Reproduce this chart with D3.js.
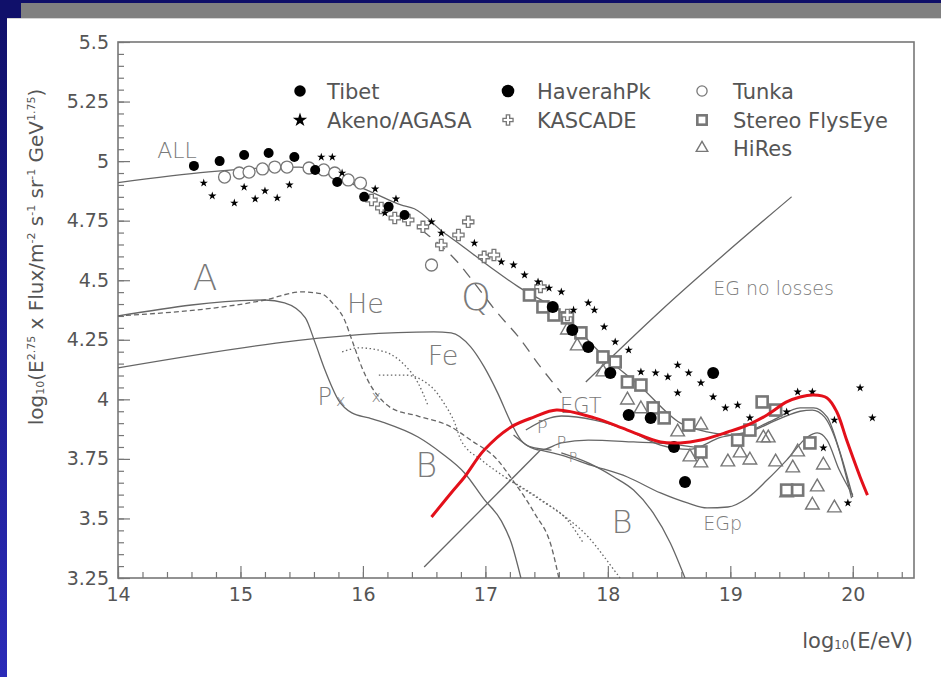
<!DOCTYPE html>
<html>
<head>
<meta charset="utf-8">
<script src="https://cdn.jsdelivr.net/npm/d3@7"></script>
<style>
  html, body { margin: 0; padding: 0; background: #fff; }
  svg { display: block; }
</style>
</head>
<body>
<div id="chart"></div>
<script>
// x = log10(E/eV), y = log10(E^2.75 x Flux)

// model curves
const allCurve = [[14.00,4.91],[15.48,4.975],[15.61,4.963],[15.77,4.934],[16.07,4.87],[16.31,4.816],[16.42,4.80],[16.66,4.70],[16.80,4.648],[17.05,4.551],[17.27,4.472],[17.62,4.362],[17.94,4.195],[18.27,4.052],[18.59,3.901],[18.81,3.863],[19.02,3.85],[19.35,3.913],[19.57,3.964],[19.68,3.964],[19.79,3.926],[19.89,3.787],[20.00,3.59]];
const protonA = [[14.00,4.35],[15.20,4.417],[15.36,4.405],[15.53,4.342],[15.61,4.237],[15.69,4.123],[15.80,3.997],[15.91,3.943],[16.05,3.922],[16.18,3.901],[16.45,3.842],[16.64,3.775],[16.83,3.691],[16.99,3.58],[17.13,3.49],[17.21,3.40],[17.29,3.25]];
const heliumA = [[14.00,4.35],[15.20,4.417],[15.50,4.451],[15.66,4.443],[15.75,4.405],[15.85,4.333],[15.91,4.249],[15.99,4.136],[16.07,4.052],[16.13,4.010],[16.23,3.964],[16.45,3.930],[16.72,3.884],[16.88,3.829],[17.10,3.745],[17.21,3.670],[17.40,3.523],[17.54,3.380],[17.60,3.25]];
const ironA = [[14.00,4.132],[16.58,4.283],[16.72,4.279],[16.88,4.220],[16.99,4.136],[17.10,4.027],[17.21,3.901],[17.29,3.829],[17.37,3.800],[17.54,3.787]];
const egTotal = [[17.33,3.871],[17.53,3.922],[17.62,3.93],[17.89,3.913],[18.16,3.871],[18.43,3.808],[18.67,3.79],[18.92,3.84],[19.16,3.865],[19.41,3.92],[19.57,3.95],[19.67,3.955],[19.77,3.925],[19.88,3.80],[19.99,3.585]];
const egProtonMid = [[17.23,3.85],[17.45,3.787],[17.62,3.817],[17.84,3.829],[18.21,3.821],[18.49,3.813],[18.76,3.796]];
const egProton = [[17.45,3.787],[17.62,3.766],[17.86,3.724],[18.16,3.674],[18.43,3.607],[18.65,3.565],[18.81,3.544],[18.98,3.548],[19.14,3.586],[19.30,3.661],[19.46,3.745],[19.63,3.842],[19.71,3.859],[19.79,3.829],[19.89,3.703],[20.00,3.598]];
const compB = [[17.62,3.775],[17.84,3.733],[18.05,3.674],[18.21,3.619],[18.37,3.523],[18.51,3.397],[18.63,3.25]];
const egRise = [[16.50,3.296],[17.45,3.787]];
const egNoLoss = [[17.82,4.073],[18.43,4.371],[19.50,4.85]];
const compQ = [[16.48,4.71],[16.78,4.572],[16.91,4.488],[17.10,4.362],[17.27,4.262],[17.45,4.136],[17.62,4.027]];
const dotArc = [[15.83,4.199],[15.97,4.216],[16.18,4.199],[16.34,4.144],[16.45,4.069],[16.53,3.976]];
const dotMid = [[16.13,4.102],[16.34,4.102],[16.56,4.052],[16.66,3.985],[16.75,3.901],[16.80,3.829],[16.97,3.745],[17.17,3.670],[17.45,3.577],[17.67,3.493],[17.80,3.397]];
const dotLow = [[17.17,3.670],[17.54,3.548],[17.84,3.422],[18.05,3.284],[18.10,3.25]];
const redCurve = [[16.56,3.506],[16.72,3.607],[16.83,3.674],[16.99,3.787],[17.21,3.884],[17.40,3.926],[17.58,3.955],[17.89,3.922],[18.16,3.871],[18.43,3.821],[18.59,3.817],[18.76,3.829],[18.98,3.863],[19.14,3.892],[19.30,3.934],[19.46,3.989],[19.57,4.010],[19.68,4.018],[19.79,4.006],[19.87,3.947],[19.95,3.829],[20.06,3.674],[20.12,3.598]];

// measurements
const tibet = [[14.62,4.98],[14.83,5.00],[15.03,5.026],[15.23,5.034],[15.44,5.017],[15.61,4.963],[15.79,4.912],[16.01,4.85],[16.21,4.808],[16.34,4.774]];
const akeno = [[14.70,4.908],[14.77,4.854],[14.95,4.824],[15.03,4.891],[15.12,4.841],[15.20,4.875],[15.30,4.845],[15.40,4.90],[15.66,5.017],[15.75,5.017],[15.83,4.95],[16.10,4.883],[16.18,4.782],[16.27,4.841],[16.56,4.745],[16.64,4.698],[16.91,4.656],[17.13,4.577],[17.23,4.564],[17.32,4.522],[17.43,4.493],[17.52,4.467],[17.62,4.451],[17.72,4.375],[17.84,4.405],[17.89,4.375],[17.97,4.304],[18.06,4.241],[18.17,4.207],[18.27,4.115],[18.39,4.111],[18.49,4.094],[18.57,4.144],[18.66,4.111],[18.57,4.027],[18.76,4.069],[18.86,4.010],[18.96,3.964],[19.06,3.976],[19.16,3.922],[19.46,3.947],[19.55,4.031],[19.67,4.031],[19.85,3.913],[20.06,4.048],[20.16,3.922],[19.76,3.796],[19.96,3.565]];
const haverah = [[17.55,4.388],[17.71,4.291],[17.84,4.220],[18.02,4.111],[18.17,3.934],[18.35,3.922],[18.54,3.800],[18.63,3.653],[18.86,4.111]];
const tunka = [[14.87,4.933],[14.99,4.95],[15.07,4.954],[15.18,4.967],[15.28,4.975],[15.38,4.975],[15.56,4.971],[15.68,4.963],[15.77,4.95],[15.88,4.921],[15.98,4.908],[16.56,4.564]];
const kascade = [[16.07,4.837],[16.15,4.803],[16.26,4.761],[16.37,4.753],[16.49,4.724],[16.64,4.648],[16.78,4.690],[16.86,4.745],[16.99,4.598],[17.07,4.606],[17.45,4.472],[17.67,4.354]];
const flysEye = [[17.36,4.438],[17.47,4.388],[17.56,4.354],[17.67,4.342],[17.78,4.279],[17.96,4.178],[18.06,4.157],[18.16,4.073],[18.27,4.060],[18.37,3.964],[18.46,3.922],[18.66,3.892],[18.76,3.779],[19.06,3.829],[19.16,3.871],[19.26,3.989],[19.37,3.955],[19.65,3.817],[19.46,3.619],[19.55,3.619]];
const hires = [[17.67,4.291],[17.75,4.224],[17.96,4.115],[18.16,3.997],[18.27,3.96],[18.57,3.863],[18.76,3.892],[18.67,3.758],[18.76,3.733],[18.98,3.737],[19.08,3.775],[19.16,3.745],[19.27,3.838],[19.31,3.838],[19.37,3.737],[19.55,3.779],[19.51,3.712],[19.76,3.724],[19.71,3.632],[19.46,3.607],[19.67,3.556],[19.85,3.544]];

// axes
const yTickValues = [3.25,3.5,3.75,4,4.25,4.5,4.75,5,5.25,5.5];
const yTickLabels = ['3.25','3.5','3.75','4','4.25','4.5','4.75','5','5.25','5.5'];
const xTickValues = [14,15,16,17,18,19,20];
const xTickLabels = ['14','15','16','17','18','19','20'];

// legend
const legendNames = ['Tibet','Akeno/AGASA','HaverahPk','KASCADE','Tunka','Stereo FlysEye','HiRes'];

// curve annotations [text, x, y]
const annotations = [['ALL',14.32,5.013],['A',14.61,4.459],['He',15.87,4.362],['Fe',16.53,4.144],['Q',16.80,4.375],['P',15.63,3.976],['x',15.78,3.972],['x',16.07,3.989],['B',16.43,3.674],['B',18.03,3.439],['EGT',17.61,3.943],['P',17.42,3.859],['P',17.58,3.796],['P',17.68,3.737],['EGp',18.78,3.452],['EG no losses',18.86,4.438]];
const annotationSizes = [22,36,27,27,38,24,16,16,33,32,21,18,16,14,19,19];

const W = 941, H = 677;
const font = '"DejaVu Sans", "Liberation Sans", sans-serif';
const grey = '#666';

const svg = d3.select('#chart').append('svg')
    .attr('width', W).attr('height', H)
    .style('font-family', font);

// slide background
const grad = svg.append('defs').append('linearGradient')
    .attr('id', 'navy').attr('x1', 0).attr('y1', 0).attr('x2', 0).attr('y2', 1);
grad.append('stop').attr('offset', 0).attr('stop-color', '#0f0f68');
grad.append('stop').attr('offset', 1).attr('stop-color', '#2b2bb8');
svg.append('rect').attr('width', W).attr('height', H).attr('fill', '#fff');
svg.append('rect').attr('width', 7).attr('height', H).attr('fill', 'url(#navy)');
svg.append('rect').attr('width', W).attr('height', 3).attr('fill', '#0f0f68');
svg.append('rect').attr('width', 21).attr('height', 18).attr('fill', '#10106a');
svg.append('rect').attr('x', 21).attr('y', 3).attr('width', W - 21).attr('height', 15).attr('fill', '#808080');
svg.append('rect').attr('x', 7).attr('y', 18).attr('width', W - 7).attr('height', 1).attr('fill', '#d4d4d4');

const x = d3.scaleLinear([14, 20.5], [118, 914]);
const y = d3.scaleLinear([3.25, 5.5], [578, 42]);

// ticks
function styleAxis(g) {
  g.select('.domain').remove();
  g.selectAll('.tick line').attr('stroke', '#777').attr('stroke-width', 1.2);
  g.selectAll('.tick text').attr('fill', '#555').attr('font-size', 19).attr('font-family', font);
}
svg.append('g').attr('transform', `translate(${x(14)},0)`)
    .call(d3.axisLeft(y).tickValues(d3.range(3.25, 5.5001, 0.05)).tickSize(-6).tickFormat(''))
    .call(styleAxis);
svg.append('g').attr('transform', `translate(${x(14)},0)`)
    .call(d3.axisLeft(y).tickValues(yTickValues).tickSize(-12).tickPadding(9)
      .tickFormat((d, i) => yTickLabels[i]))
    .call(styleAxis);
svg.append('g').attr('transform', `translate(0,${y(3.25)})`)
    .call(d3.axisBottom(x).tickValues(d3.range(14, 20.5, 0.2)).tickSize(-6).tickFormat(''))
    .call(styleAxis);
svg.append('g').attr('transform', `translate(0,${y(3.25)})`)
    .call(d3.axisBottom(x).tickValues(xTickValues).tickSize(-12).tickPadding(10)
      .tickFormat((d, i) => xTickLabels[i]))
    .call(styleAxis);

svg.append('rect')
    .attr('x', x(14)).attr('y', y(5.5))
    .attr('width', x(20.5) - x(14)).attr('height', y(3.25) - y(5.5))
    .attr('fill', 'none').attr('stroke', '#777').attr('stroke-width', 1.6);

// axis titles
function richText(sel, parts) {
  parts.forEach(([t, kind]) => {
    const ts = sel.append('tspan').text(t);
    if (kind === 'sup') ts.attr('font-size', '0.55em').attr('baseline-shift', '70%');
    if (kind === 'sub') ts.attr('font-size', '0.55em').attr('baseline-shift', '-10%');
  });
}
const yTitle = svg.append('text')
    .attr('transform', 'translate(43,257) rotate(-90)')
    .attr('text-anchor', 'middle').attr('font-size', 20).attr('fill', '#555');
richText(yTitle, [['log',''],['10','sub'],['(E',''],['2.75','sup'],[' x Flux/m',''],['-2','sup'],[' s',''],['-1','sup'],[' sr',''],['-1','sup'],[' GeV',''],['1.75','sup'],[')','']]);

const xTitle = svg.append('text')
    .attr('x', 913).attr('y', 648)
    .attr('text-anchor', 'end').attr('font-size', 21).attr('fill', '#555');
richText(xTitle, [['log',''],['10','sub'],['(E/eV)','']]);

// model curves
const line = d3.line().x(d => x(d[0])).y(d => y(d[1])).curve(d3.curveMonotoneX);
const curveDefs = [
  [allCurve, null], [protonA, null], [heliumA, '5,3'], [ironA, null],
  [egTotal, null], [egProtonMid, null], [egProton, null], [compB, null],
  [egRise, null], [egNoLoss, null], [compQ, '11,8'],
  [dotArc, '1.5,2.5'], [dotMid, '1.5,2.5'], [dotLow, '1.5,2.5']
];
svg.append('g').selectAll('path').data(curveDefs).join('path')
    .attr('d', d => line(d[0]))
    .attr('fill', 'none')
    .attr('stroke', grey)
    .attr('stroke-width', 1.3)
    .attr('stroke-dasharray', d => d[1]);

// markers
const marks = svg.append('g');
function drawHiRes(g, px, py, s) {
  g.append('path').attr('transform', `translate(${px},${py})`)
    .attr('d', d3.symbol(d3.symbolTriangle, 80 * s * s)())
    .attr('fill', 'none').attr('stroke', '#777').attr('stroke-width', 1.4);
}
function drawFlys(g, px, py, s) {
  g.append('rect').attr('x', px - 5.5 * s).attr('y', py - 5.5 * s)
    .attr('width', 11 * s).attr('height', 11 * s)
    .attr('fill', '#fff').attr('stroke', '#777').attr('stroke-width', 2.6);
}
function drawKascade(g, px, py, s) {
  g.append('path').attr('transform', `translate(${px},${py})`)
    .attr('d', d3.symbol(d3.symbolCross, 70 * s * s)())
    .attr('fill', '#fff').attr('stroke', '#777').attr('stroke-width', 1.3);
}
function drawTunka(g, px, py, s) {
  g.append('circle').attr('cx', px).attr('cy', py).attr('r', 6 * s)
    .attr('fill', '#fff').attr('stroke', '#777').attr('stroke-width', 1.3);
}
function drawTibet(g, px, py, s) {
  g.append('circle').attr('cx', px).attr('cy', py).attr('r', 5 * s).attr('fill', '#000');
}
function drawHaverah(g, px, py, s) {
  g.append('circle').attr('cx', px).attr('cy', py).attr('r', 6 * s).attr('fill', '#000');
}
function drawAkeno(g, px, py, s) {
  g.append('path').attr('transform', `translate(${px},${py})`)
    .attr('d', d3.symbol(d3.symbolStar, 22 * s * s)()).attr('fill', '#000');
}
hires.forEach(d => drawHiRes(marks, x(d[0]), y(d[1]), 1));
flysEye.forEach(d => drawFlys(marks, x(d[0]), y(d[1]), 1));
kascade.forEach(d => drawKascade(marks, x(d[0]), y(d[1]), 1));
tunka.forEach(d => drawTunka(marks, x(d[0]), y(d[1]), 1));
tibet.forEach(d => drawTibet(marks, x(d[0]), y(d[1]), 1));
haverah.forEach(d => drawHaverah(marks, x(d[0]), y(d[1]), 1));
akeno.forEach(d => drawAkeno(marks, x(d[0]), y(d[1]), 1));

// annotations
svg.append('g').selectAll('text').data(annotations).join('text')
    .attr('x', d => x(d[1])).attr('y', d => y(d[2]))
    .attr('font-size', (d, i) => annotationSizes[i])
    .attr('font-weight', 200)
    .attr('fill', '#7a7a7a')
    .text(d => d[0]);

// legend
const legendPos = [[300,91,327],[300,120,327],[508,91,537],[508,120,537],[702,91,733],[702,120,733],[702,148,733]];
const legendDraw = [drawTibet, drawAkeno, drawHaverah, drawKascade, drawTunka, drawFlys, drawHiRes];
const legendScale = [1.15, 1.7, 1.05, 0.9, 0.85, 0.85, 0.85];
const legend = svg.append('g');
legendNames.forEach((name, i) => {
  const [mx, my, tx] = legendPos[i];
  legendDraw[i](legend, mx, my, legendScale[i]);
  legend.append('text').attr('x', tx).attr('y', my + 8)
      .attr('font-size', 21).attr('fill', '#555').text(name);
});

// highlighted fit
svg.append('path')
    .attr('d', d3.line().x(d => x(d[0])).y(d => y(d[1])).curve(d3.curveCatmullRom)(redCurve))
    .attr('fill', 'none').attr('stroke', '#e3101a').attr('stroke-width', 3);
</script>
</body>
</html>
